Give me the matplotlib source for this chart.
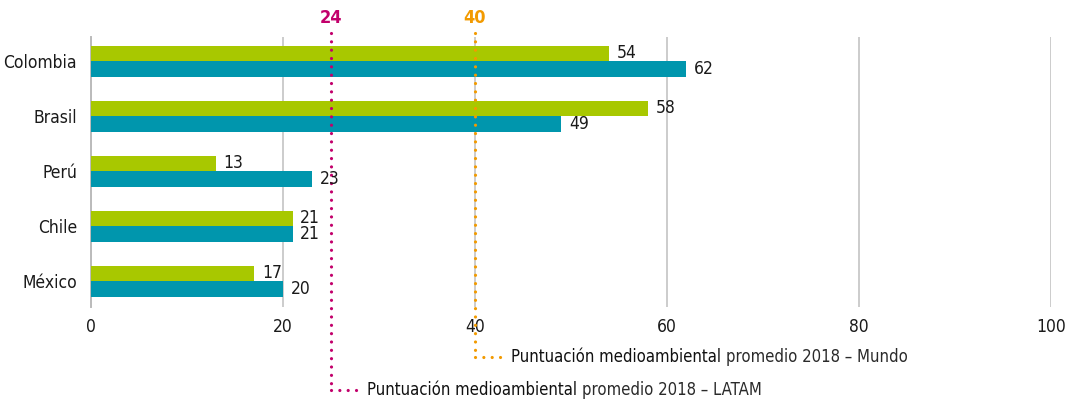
import matplotlib.pyplot as plt
import numpy as np

paises = ['Colombia', 'Brasil', 'Perú', 'Chile', 'México']
serie_verde = [54, 58, 13, 21, 17]
serie_azul = [62, 49, 23, 21, 20]
ticks_x = [0, 20, 40, 60, 80, 100]

# lineas de promedio: (posicion, etiqueta, texto)
latam_pos, latam_lbl = 25, '24'
mundo_pos, mundo_lbl = 40, '40'
latam_txt = ('Puntuación medioambiental', 'promedio 2018 – LATAM')
mundo_txt = ('Puntuación medioambiental', 'promedio 2018 – Mundo')

VERDE = '#a8c800'
AZUL = '#0096ad'
MAGENTA = '#c2006b'
NARANJA = '#f29a00'

plt.rcParams['font.family'] = ['DejaVu Sans']
plt.rcParams['font.stretch'] = 'condensed'
FS = 12.5

fig = plt.figure(figsize=(10.77, 4.01), dpi=100)
ax = fig.add_axes([91 / 1077, 1 - 307 / 401, 960 / 1077, 270 / 401])

y = np.arange(len(paises))
h = 0.28
ax.barh(y - h / 2, serie_verde, height=h, color=VERDE, zorder=3)
ax.barh(y + h / 2, serie_azul, height=h, color=AZUL, zorder=3)

for yi, v in zip(y, serie_verde):
    ax.annotate(str(v), (v, yi - h / 2), xytext=(5.5, 0), textcoords='offset points',
                va='center', ha='left', fontsize=FS, color='#1a1a1a', zorder=5)
for yi, v in zip(y, serie_azul):
    ax.annotate(str(v), (v, yi + h / 2), xytext=(5.5, 0), textcoords='offset points',
                va='center', ha='left', fontsize=FS, color='#1a1a1a', zorder=5)

ax.set_xlim(0, 100)
ax.set_ylim(4.47, -0.44)
ax.set_yticks(y)
ax.set_yticklabels(paises, fontsize=FS, color='#1a1a1a')
ax.set_xticks(ticks_x)
ax.set_xticklabels([str(t) for t in ticks_x], fontsize=FS, color='#1a1a1a')
ax.tick_params(length=0, pad=8)
ax.tick_params(axis='y', pad=10)
ax.grid(axis='x', color='#cccccc', lw=1.4, zorder=0)
for s in ['top', 'right', 'bottom']:
    ax.spines[s].set_visible(False)
ax.spines['left'].set_color('#bbbbbb')
ax.spines['left'].set_linewidth(1.4)

punteado = (0, (0.01, 2.6))


def linea_promedio(x, y_fin, color, lbl, txt):
    ax.plot([x, x], [-0.51, y_fin], color=color, lw=2.3, ls=punteado,
            dash_capstyle='round', clip_on=False, zorder=4)
    ax.plot([x, x + 3.0], [y_fin, y_fin], color=color, lw=2.3, ls=punteado,
            dash_capstyle='round', clip_on=False, zorder=4)
    ax.text(x, -0.78, lbl, color=color, fontsize=13, fontweight='bold',
            ha='center', va='center')
    t1 = ax.text(x + 3.8, y_fin, txt[0] + ' ', fontsize=FS - 0.5, color='#111111',
                 va='center', ha='left')
    ax.annotate(txt[1], xy=(1, 0.5), xycoords=t1, fontsize=FS - 0.5, color='#2a2a2a',
                va='center', ha='left', fontweight='light')


linea_promedio(latam_pos, 4 + 109 / 55, MAGENTA, latam_lbl, latam_txt)
linea_promedio(mundo_pos, 4 + 76 / 55, NARANJA, mundo_lbl, mundo_txt)

fig.savefig('out.png', dpi=100)
